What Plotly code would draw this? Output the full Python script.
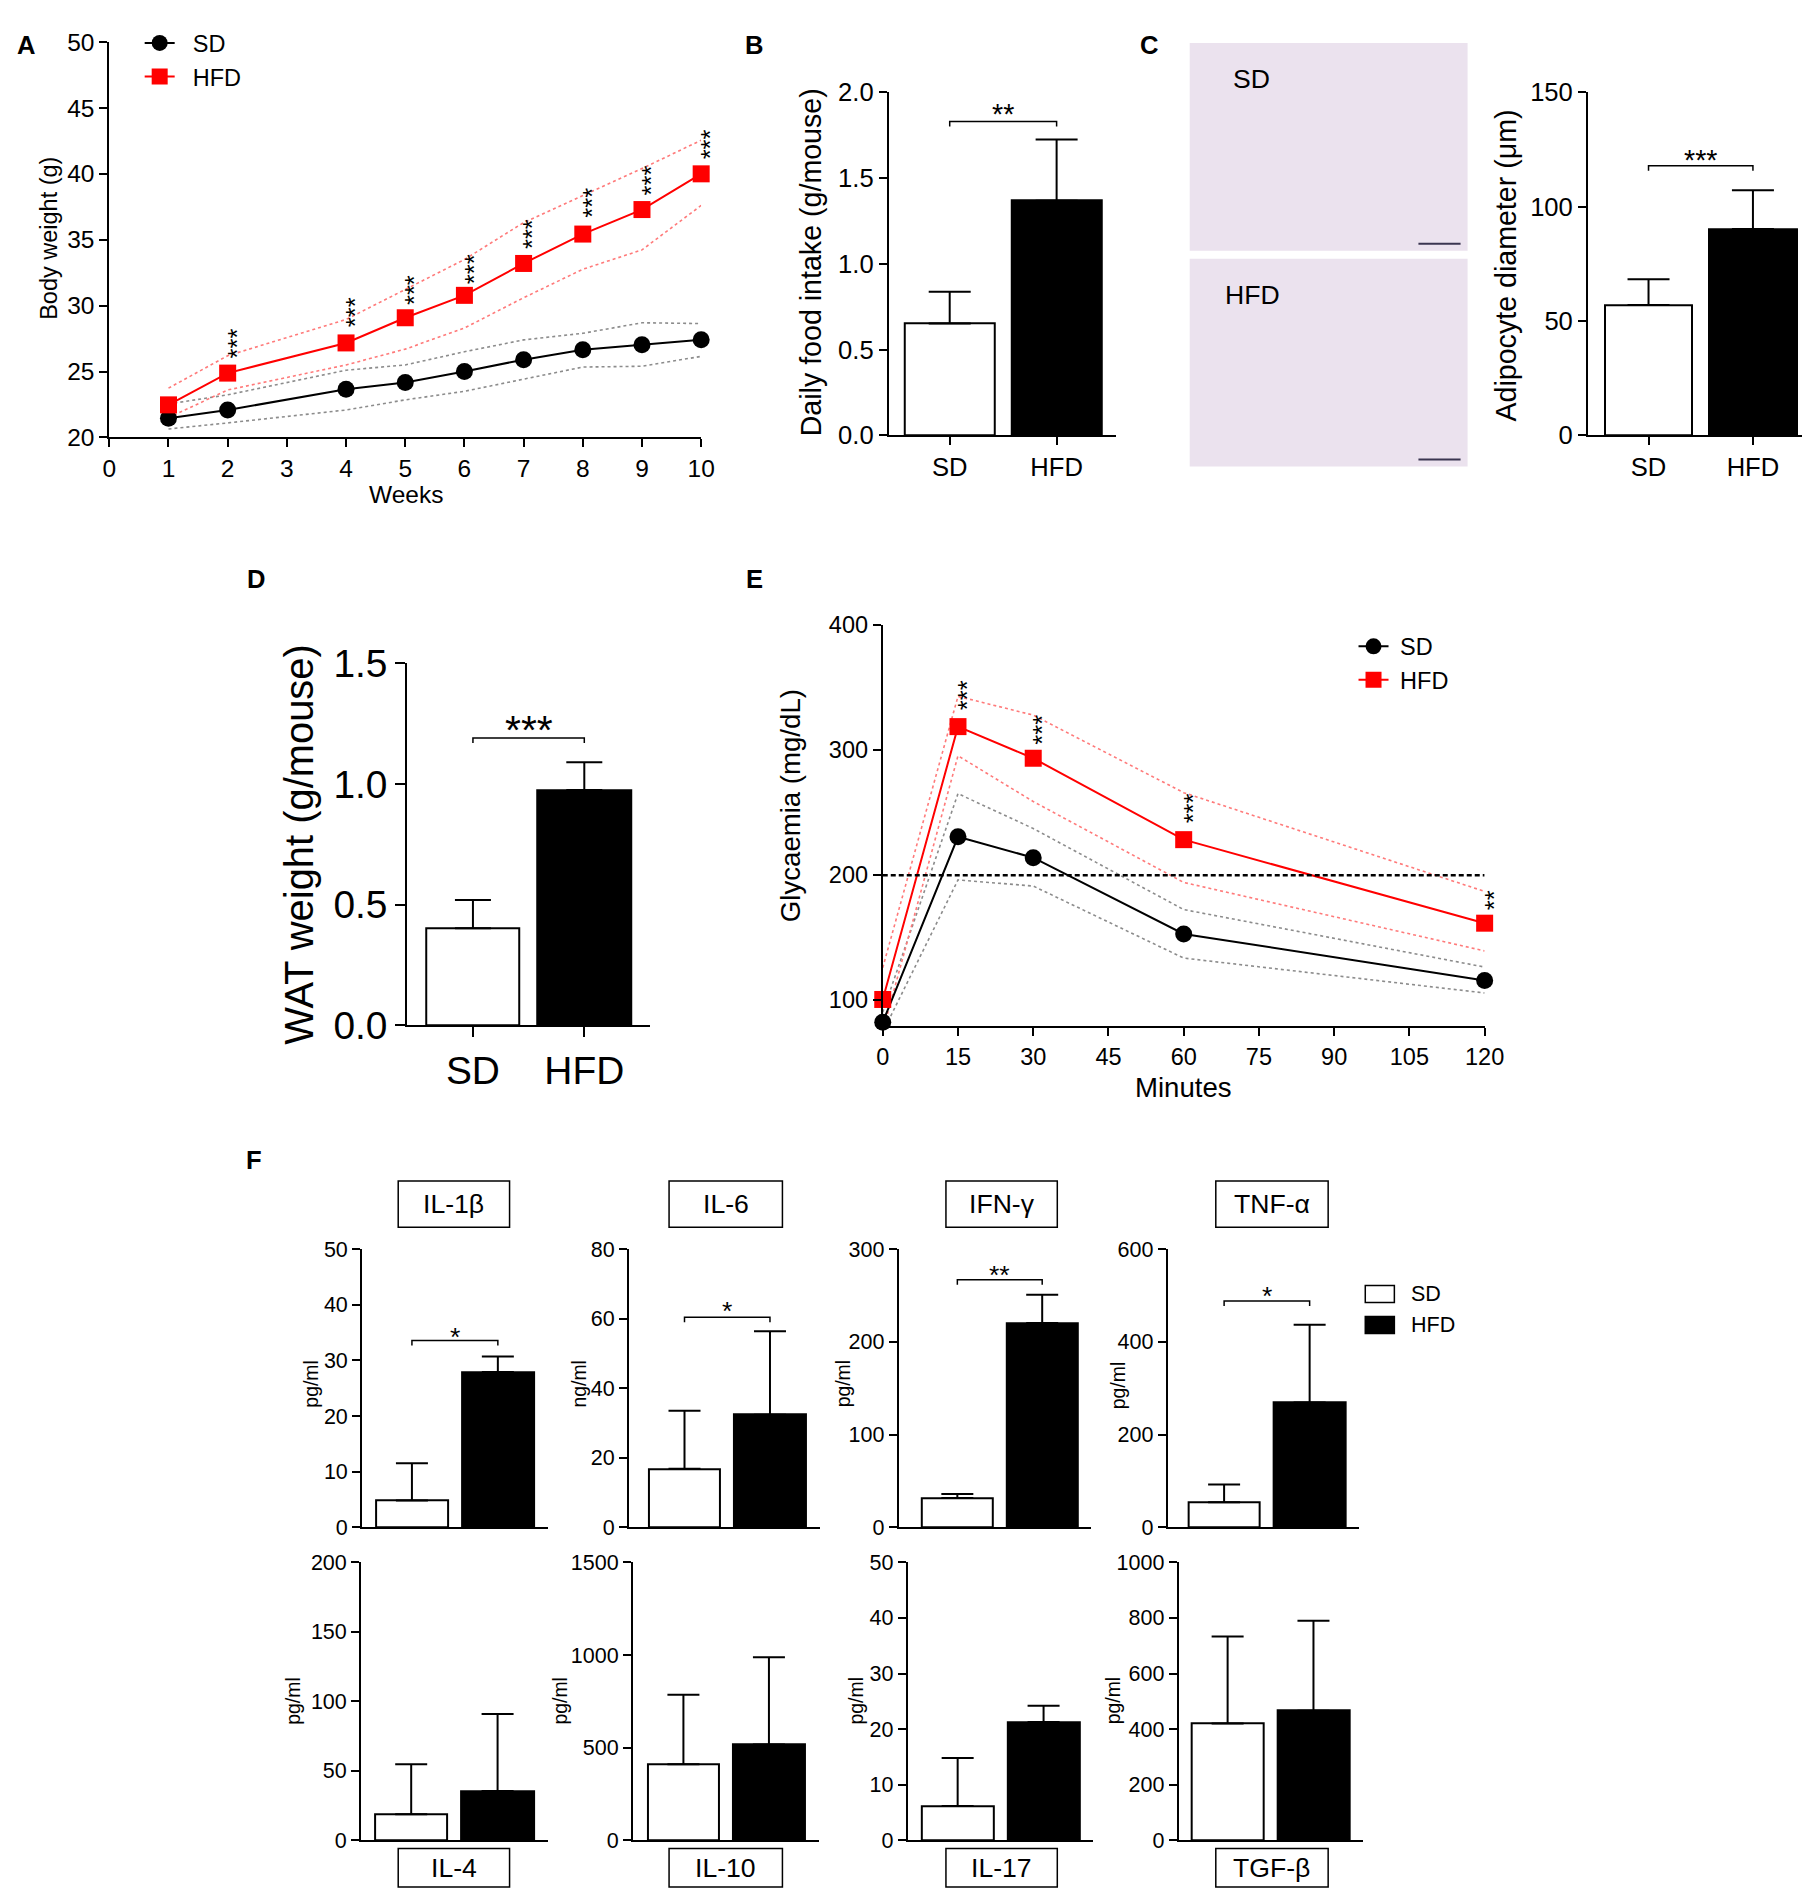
import plotly.graph_objects as go

W, H = 1814, 1903
FONT = "Liberation Sans, Arial, Helvetica, sans-serif"
RED = "#ff0000"

# ---------------- data ----------------
# A: body weight over weeks (mean and the dotted upper/lower lines)
weeks = [1, 2, 4, 5, 6, 7, 8, 9, 10]
sd_weight = [21.45, 22.08, 23.66, 24.17, 25.0, 25.9, 26.66, 27.04, 27.42]
sd_weight_hi = [22.54, 23.23, 25.1, 25.5, 26.5, 27.4, 27.9, 28.7, 28.64]
sd_weight_lo = [20.64, 21.1, 22.08, 22.85, 23.5, 24.4, 25.34, 25.4, 26.15]
hfd_weight = [22.47, 24.88, 27.17, 29.08, 30.78, 33.2, 35.43, 37.29, 40.0]
hfd_weight_hi = [23.74, 26.2, 28.95, 31.24, 33.5, 36.3, 38.36, 40.4, 42.55]
hfd_weight_lo = [21.5, 23.6, 25.5, 26.7, 28.3, 30.6, 32.76, 34.23, 37.6]
weight_star_weeks = [2, 4, 5, 6, 7, 8, 9, 10]
weight_star_y = [27.1, 29.5, 31.2, 32.8, 35.4, 37.8, 39.5, 42.25]

groups = ["SD", "HFD"]
# B: daily food intake
food_mean = [0.652, 1.368]
food_top = [0.837, 1.724]
food_bracket, food_star = 1.83, 1.93
# C: adipocyte diameter
adipo_mean = [57.0, 90.2]
adipo_top = [68.3, 107.2]
adipo_bracket, adipo_star = 117.9, 124.9
# D: WAT weight
wat_mean = [0.403, 0.975]
wat_top = [0.52, 1.09]
wat_bracket, wat_star = 1.19, 1.283

# E: glycaemia
minutes = [0, 15, 30, 60, 120]
sd_glc = [82.4, 230.7, 214.0, 153.0, 115.8]
sd_glc_hi = [90.4, 265.2, 237.3, 172.5, 126.5]
sd_glc_lo = [74.4, 196.2, 191.3, 133.7, 105.8]
hfd_glc = [100.6, 318.8, 293.5, 228.4, 161.6]
hfd_glc_hi = [126.0, 343.0, 328.0, 266.0, 187.0]
hfd_glc_lo = [75.0, 295.5, 258.9, 194.2, 139.4]
glc_star_min = [15, 30, 60, 120]
glc_star_y = [343.9, 316.5, 253.2, 179.7]
glc_star_txt = ["***", "***", "***", "**"]
glc_threshold = 200

# F: cytokines
cytokines = ["IL-1β", "IL-6", "IFN-γ", "TNF-α", "IL-4", "IL-10", "IL-17", "TGF-β"]
cyto_units = ["pg/ml", "ng/ml", "pg/ml", "pg/ml", "pg/ml", "pg/ml", "pg/ml", "pg/ml"]
cyto_sd = [4.8, 16.8, 31.6, 53.9, 18.7, 410, 6.18, 420]
cyto_sd_top = [11.5, 33.5, 35.9, 92, 54.7, 785, 14.8, 733]
cyto_hfd = [27.9, 32.4, 220.3, 269.4, 35.5, 517, 21.3, 466]
cyto_hfd_top = [30.7, 56.4, 250.8, 436.8, 90.8, 988, 24.2, 790]
cyto_ymax = [50, 80, 300, 600, 200, 1500, 50, 1000]
cyto_dtick = [10, 20, 100, 200, 50, 500, 10, 200]
cyto_sig = ["*", "*", "**", "*", "", "", "", ""]
cyto_bracket = [33.6, 60.4, 267, 488.5, None, None, None, None]
cyto_star = [35.9, 65.0, 282, 519, None, None, None, None]


# ---------------- helpers ----------------
# positions below are measured on the reference in pixels; the page shows the
# figure slightly shrunk and offset, so map reference px -> figure px first
OX, OY, SX, SY = 18, 34, 0.982, 0.974


def fx(x):
    return min(max((x - OX) / SX, 0), W)


def fy(y):
    return min(max((y - OY) / SY, 0), H)


def fs(size):
    return round(size / 0.978, 1)


def xd(a, b):
    return [fx(a) / W, fx(b) / W]


def yd(top, bottom):
    return [1 - fy(bottom) / H, 1 - fy(top) / H]


def px(x):
    return fx(x) / W


def py(y):
    return 1 - fy(y) / H


def axis(domain, rng, size, anchor, **kw):
    d = dict(domain=domain, range=rng, anchor=anchor, showline=True, linecolor="black",
             linewidth=2, ticks="outside", ticklen=8, tickwidth=2, tickcolor="black",
             showgrid=False, zeroline=False, fixedrange=True,
             tickfont=dict(size=fs(size), family=FONT, color="black"))
    d.update(kw)
    return d


fig = go.Figure()
annotations = []
shapes = []


def text(t, x, y, size, angle=0, xanchor="center", yanchor="middle", bold=False):
    annotations.append(dict(text=f"<b>{t}</b>" if bold else t, x=px(x), y=py(y),
                            xref="paper", yref="paper", showarrow=False, textangle=angle,
                            xanchor=xanchor, yanchor=yanchor,
                            font=dict(size=fs(size), family=FONT, color="black")))


def star(t, x, y, ax, size, vertical=False):
    a = dict(text=t, x=x, y=y, xref="x" + ax, yref="y" + ax, showarrow=False,
             xanchor="center", yanchor="middle",
             font=dict(size=fs(size), family=FONT, color="black"))
    if vertical:
        a.update(textangle=-90, xshift=0.36 * size)
    else:
        a.update(yshift=-0.36 * size)
    annotations.append(a)


def bracket(y, ax, drop):
    shapes.append(dict(type="path", xref="x" + ax, yref="y" + ax,
                       path=f"M 0,{y - drop} L 0,{y} L 1,{y} L 1,{y - drop}",
                       line=dict(color="black", width=1.5)))


def bars(mean, top, ax, cap):
    fig.add_trace(go.Bar(
        x=[0, 1], y=mean, width=0.84, xaxis="x" + ax, yaxis="y" + ax, showlegend=False,
        marker=dict(color=["white", "black"], line=dict(color="black", width=2)),
        error_y=dict(type="data", symmetric=False, array=[t - m for t, m in zip(top, mean)],
                     arrayminus=[0, 0], color="black", thickness=2, width=cap),
        hoverinfo="skip"))


def band(x, y, color, ax):
    fig.add_trace(go.Scatter(x=x, y=y, mode="lines", xaxis="x" + ax, yaxis="y" + ax,
                             line=dict(color=color, width=1.6, dash="dot"),
                             showlegend=False, hoverinfo="skip"))


def main_line(x, y, name, color, symbol, ax, legend):
    fig.add_trace(go.Scatter(x=x, y=y, mode="lines+markers", name=name, xaxis="x" + ax,
                             yaxis="y" + ax, legend=legend, cliponaxis=False,
                             line=dict(color=color, width=2),
                             marker=dict(symbol=symbol, size=17, color=color)))


layout = dict(width=W, height=H, margin=dict(l=0, r=0, t=0, b=0), paper_bgcolor="white",
              plot_bgcolor="white", font=dict(family=FONT, color="black"), bargap=0)

# ---------------- A ----------------
layout["xaxis"] = axis(xd(112, 702), [0, 10], 24, "y", dtick=1, tick0=0)
layout["yaxis"] = axis(yd(47, 441), [20, 50], 24, "x", dtick=5)
band(weeks, sd_weight_hi, "#8c8c8c", "")
band(weeks, sd_weight_lo, "#8c8c8c", "")
band(weeks, hfd_weight_hi, "#ff7a7a", "")
band(weeks, hfd_weight_lo, "#ff7a7a", "")
main_line(weeks, sd_weight, "\u00a0\u00a0SD", "black", "circle", "", "legend")
main_line(weeks, hfd_weight, "\u00a0\u00a0HFD", RED, "square", "", "legend")
for w, y in zip(weight_star_weeks, weight_star_y):
    star("***", w, y, "", 25, vertical=True)
layout["legend"] = dict(x=(fx(158) - 16) / W, y=1 + 8 / H, xanchor="left", yanchor="top",
                        font=dict(size=fs(23), family=FONT), bgcolor="rgba(0,0,0,0)",
                        itemwidth=30, tracegroupgap=4)
text("Body weight (g)", 52, 243, 23, angle=-90)
text("Weeks", 408, 498, 24)
text("A", 1, 6, 25, bold=True, xanchor="left", yanchor="top")

# ---------------- B ----------------
layout["xaxis2"] = axis(xd(889, 1116), [-0.57, 1.56], 25, "y2", tickvals=[0, 1], ticktext=groups)
layout["yaxis2"] = axis(yd(97, 439), [0, 2.0], 25, "x2", dtick=0.5, tickformat=".1f")
bars(food_mean, food_top, "2", 21)
bracket(food_bracket, "2", 0.03)
star("**", 0.5, food_star, "2", 28)
text("Daily food intake (g/mouse)", 811, 267, 28, angle=-90)
text("B", 744, 6, 25, bold=True, xanchor="left", yanchor="top")

# ---------------- C ----------------
for top, bottom, label, lx in [(48, 255, "SD", 1230), (263, 470, "HFD", 1222)]:
    shapes.append(dict(type="rect", xref="paper", yref="paper", x0=px(1189), x1=px(1466),
                       y0=py(bottom), y1=py(top), fillcolor="#ebe2ee", line=dict(width=0),
                       layer="below"))
    shapes.append(dict(type="line", xref="paper", yref="paper", x0=px(1417), x1=px(1459),
                       y0=py(bottom - 7), y1=py(bottom - 7), line=dict(color="#3a3550", width=2)))
    text(label, lx, top + 36, 26, xanchor="left")
layout["xaxis3"] = axis(xd(1586, 1814), [-0.58, 1.47], 25, "y3", tickvals=[0, 1], ticktext=groups)
layout["yaxis3"] = axis(yd(97, 439), [0, 150], 25, "x3", dtick=50)
bars(adipo_mean, adipo_top, "3", 21)
bracket(adipo_bracket, "3", 2.2)
star("***", 0.5, adipo_star, "3", 28)
text("Adipocyte diameter (μm)", 1504, 270, 28, angle=-90)
text("C", 1137, 6, 25, bold=True, xanchor="left", yanchor="top")

# ---------------- D ----------------
layout["xaxis4"] = axis(xd(409, 651), [-0.59, 1.59], 38, "y4", tickvals=[0, 1],
                        ticktext=groups, ticklen=10)
layout["yaxis4"] = axis(yd(666, 1027), [0, 1.5], 38, "x4", dtick=0.5, tickformat=".1f",
                        ticklen=10)
bars(wat_mean, wat_top, "4", 18)
bracket(wat_bracket, "4", 0.02)
star("***", 0.5, wat_star, "4", 40)
text("WAT weight (g/mouse)", 301, 846, 39, angle=-90)
text("D", 247, 582, 25, bold=True, xanchor="left")

# ---------------- E ----------------
layout["xaxis5"] = axis(xd(883, 1483), [0, 120], 23, "y5", dtick=15, tick0=0)
layout["yaxis5"] = axis(yd(628, 1028), [79, 400], 23, "x5", tickvals=[100, 200, 300, 400])
band(minutes, sd_glc_hi, "#8c8c8c", "5")
band(minutes, sd_glc_lo, "#8c8c8c", "5")
band(minutes, hfd_glc_hi, "#ff7a7a", "5")
band(minutes, hfd_glc_lo, "#ff7a7a", "5")
shapes.append(dict(type="line", xref="x5", yref="y5", x0=0, x1=120, y0=glc_threshold,
                   y1=glc_threshold, line=dict(color="black", width=2.5, dash="5px,3px")))
main_line(minutes, sd_glc, "\u00a0SD", "black", "circle", "5", "legend2")
main_line(minutes, hfd_glc, "\u00a0HFD", RED, "square", "5", "legend2")
for m, y, t in zip(glc_star_min, glc_star_y, glc_star_txt):
    star(t, m, y, "5", 25, vertical=True)
layout["legend2"] = dict(x=px(1368) - 16 / W, y=py(644) + 17 / H, xanchor="left",
                         yanchor="top", font=dict(size=fs(23), family=FONT),
                         bgcolor="rgba(0,0,0,0)", itemwidth=30, tracegroupgap=4)
text("Glycaemia (mg/dL)", 791, 808, 27, angle=-90)
text("Minutes", 1183, 1089, 27)
text("E", 745, 582, 25, bold=True, xanchor="left")

# ---------------- F ----------------
f_cols = [(364, 549), (630, 820), (899, 1091), (1167, 1358),
          (363, 549), (634, 819), (908, 1093), (1178, 1362)]
f_left = [-0.58, -0.65, -0.69, -0.66, -0.58, -0.59, -0.58, -0.57]
f_boxes = [(400, 511), (670, 783), (946, 1057), (1215, 1327)] * 2
f_ytitle = [(313, 1384), (580, 1384), (843, 1384), (1117, 1386),
            (295, 1700), (561, 1700), (856, 1700), (1112, 1700)]
for i, name in enumerate(cytokines):
    ax = str(6 + i)
    top_row = i < 4
    ydom = yd(1250, 1527) if top_row else yd(1562, 1839)
    layout["xaxis" + ax] = axis(xd(*f_cols[i]), [f_left[i], 1.58], 20, "y" + ax,
                                showticklabels=False, ticks="")
    layout["yaxis" + ax] = axis(ydom, [0, cyto_ymax[i]], 21, "x" + ax, dtick=cyto_dtick[i])
    bars([cyto_sd[i], cyto_hfd[i]], [cyto_sd_top[i], cyto_hfd_top[i]], ax, 16)
    if cyto_sig[i]:
        bracket(cyto_bracket[i], ax, cyto_ymax[i] * 0.018)
        star(cyto_sig[i], 0.5, cyto_star[i], ax, 26)
    bx0, bx1 = f_boxes[i]
    if top_row:
        y_top, y_bot = 1 - fy(1182) / H, 1 - fy(1228) / H
    else:
        y_top, y_bot = 1 - (fy(1855) - 8) / H, 1 - 1901 / H
    shapes.append(dict(type="rect", xref="paper", yref="paper", x0=px(bx0), x1=px(bx1),
                       y0=y_bot, y1=y_top, line=dict(color="black", width=1.5),
                       fillcolor="white"))
    annotations.append(dict(text=name, x=px((bx0 + bx1) / 2), y=(y_top + y_bot) / 2,
                            xref="paper", yref="paper", showarrow=False,
                            xanchor="center", yanchor="middle",
                            font=dict(size=fs(26), family=FONT, color="black")))
    text(cyto_units[i], f_ytitle[i][0], f_ytitle[i][1], 19, angle=-90)

# F legend
for (y0, y1), fill, label in [((1286, 1303), "white", "SD"), ((1317, 1334), "black", "HFD")]:
    shapes.append(dict(type="rect", xref="paper", yref="paper", x0=px(1364), x1=px(1393),
                       y0=py(y1), y1=py(y0), fillcolor=fill, line=dict(color="black", width=1.5)))
    text(label, 1408, (y0 + y1) / 2, 21, xanchor="left")
text("F", 246, 1161, 25, bold=True, xanchor="left")

layout["annotations"] = annotations
layout["shapes"] = shapes
fig.update_layout(**layout)
fig.write_html("out.html")
